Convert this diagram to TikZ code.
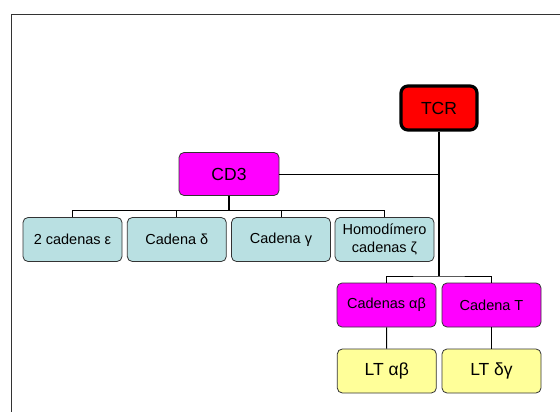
\documentclass[tikz,border=0pt]{standalone}
\usepackage{fontspec}
\setmainfont{Liberation Sans}
\usepackage{tikz}
\definecolor{tcrred}{RGB}{255,0,0}
\definecolor{cdmag}{RGB}{255,0,255}
\definecolor{chainblue}{RGB}{185,224,226}
\definecolor{ltyellow}{RGB}{255,255,153}

\begin{document}
\begin{tikzpicture}[x=1pt,y=-1pt,
    box/.style={draw=black!80,line width=0.8pt,rounded corners=5pt,
      minimum width=99pt,minimum height=44pt,align=center,inner sep=1pt,
      font=\fontsize{14.5}{18}\selectfont},
    bigbox/.style={box,font=\fontsize{17.5}{20}\selectfont},
    link/.style={line width=1pt,black},
    trunk/.style={line width=1.8pt,black}]
  \useasboundingbox (0,0) rectangle (560,412);
  \clip (0,0) rectangle (560,412);
  \fill[white] (0,0) rectangle (560,412);
  % frame of the slide
  \draw[line width=1.8pt,black!80] (600,14.5) -- (11.5,14.5) -- (11.5,440);

  % top level
  \node[bigbox,fill=tcrred,draw=black,line width=3.2pt,rounded corners=7pt,
    minimum width=76pt,minimum height=44pt] (tcr) at (439,108) {TCR};
  \node[bigbox,fill=cdmag,minimum width=100pt,minimum height=43pt] (cd3) at (229,174) {CD3};

  % CD3 chains
  \node[box,fill=chainblue] (eps) at (72.5,239.5) {2 cadenas ε};
  \node[box,fill=chainblue] (delta) at (176.8,239.5) {Cadena δ};
  \node[box,fill=chainblue] (gamma) at (281,239.5) {Cadena γ};
  \node[box,fill=chainblue,font=\fontsize{14.5}{18.5}\selectfont] (zeta) at (384.5,239.5) {Homodímero\\cadenas ζ};

  % TCR chains
  \node[box,fill=cdmag] (ab) at (386.5,305) {Cadenas αβ};
  \node[box,fill=cdmag] (tch) at (491.5,305) {Cadena T};
  \node[bigbox,fill=ltyellow] (ltab) at (386.8,371) {LT αβ};
  \node[bigbox,fill=ltyellow] (ltdg) at (491.5,371) {LT δγ};

  \coordinate (cdbus) at (229,210.5);
  \coordinate (tcrbus) at (439,276);

  % connectors
  \draw[trunk] (tcr.south) -- (tcrbus);
  \draw[link] (cd3.east) -- (cd3.east -| tcr.south);
  \draw[trunk] (cd3.south) -- (cdbus);
  \draw[link] (eps.north) |- (cdbus) -| (zeta.north);
  \draw[link] (delta.north) |- (cdbus) -| (gamma.north);
  \draw[link] (ab.north) |- (tcrbus) -| (tch.north);
  \draw[link] (ab) -- (ltab);
  \draw[link] (tch) -- (ltdg);
\end{tikzpicture}
\end{document}
